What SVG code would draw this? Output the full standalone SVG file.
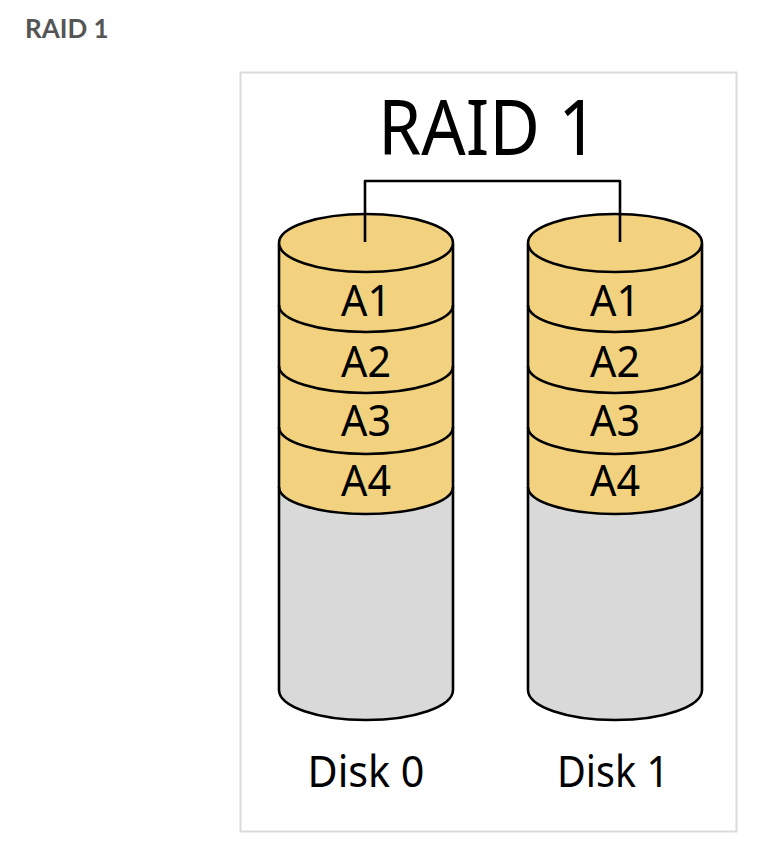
<svg xmlns="http://www.w3.org/2000/svg" xmlns:xlink="http://www.w3.org/1999/xlink" width="769" height="848" viewBox="0 0 769 848">
<style>
.ln{stroke:#000;stroke-width:2.6;fill:none;stroke-linejoin:round}
.gold{fill:#F2D27E}
.gray{fill:#D9D9D9}
.lbl{font-family:"Noto Sans","Open Sans","DejaVu Sans",sans-serif;font-size:44px;fill:#000;text-anchor:middle}
</style>
<defs>
<g id="cyl">
<path class="gray" d="M-87,244 L-87,690 A87,30 0 0 0 87,690 L87,244 Z"/>
<path class="gold" d="M-87,244 L-87,487 A87,27 0 0 0 87,487 L87,244 Z"/>
<path class="ln" d="M-87,305 A87,27 0 0 0 87,305 M-87,366 A87,27 0 0 0 87,366 M-87,427 A87,27 0 0 0 87,427 M-87,487 A87,27 0 0 0 87,487"/>
<path class="ln" d="M-87,244 L-87,690 A87,30 0 0 0 87,690 L87,244"/>
<ellipse class="gold ln" cx="0" cy="243" rx="87" ry="29" style="fill:#F2D27E"/>
<text class="lbl" x="0" y="316" textLength="50" lengthAdjust="spacingAndGlyphs">A1</text>
<text class="lbl" x="0" y="377" textLength="50" lengthAdjust="spacingAndGlyphs">A2</text>
<text class="lbl" x="0" y="436" textLength="50" lengthAdjust="spacingAndGlyphs">A3</text>
<text class="lbl" x="0" y="496" textLength="50" lengthAdjust="spacingAndGlyphs">A4</text>
</g>
</defs>
<rect x="0" y="0" width="769" height="848" fill="#fff"/>
<text id="heading" x="25" y="38" style="font-family:Lato,'Liberation Sans',sans-serif;font-weight:bold;font-size:26px;fill:#555">RAID 1</text>
<rect id="frame" x="240.5" y="72.5" width="496" height="759" fill="#fff" stroke="#DADADA" stroke-width="2"/>
<text id="title" class="lbl" x="488" y="155" style="font-size:76px" textLength="220" lengthAdjust="spacingAndGlyphs">RAID 1</text>
<g id="disk0" transform="translate(366,0)">
<use xlink:href="#cyl" href="#cyl"/>
<text class="lbl" x="0" y="787" textLength="117" lengthAdjust="spacingAndGlyphs">Disk 0</text>
</g>
<g id="disk1" transform="translate(615,0)">
<use xlink:href="#cyl" href="#cyl"/>
<text class="lbl" x="-2" y="787" textLength="112" lengthAdjust="spacingAndGlyphs">Disk 1</text>
</g>
<g id="connectors">
<path class="ln" d="M365,242 V181 H620 V242"/>
</g>
</svg>
